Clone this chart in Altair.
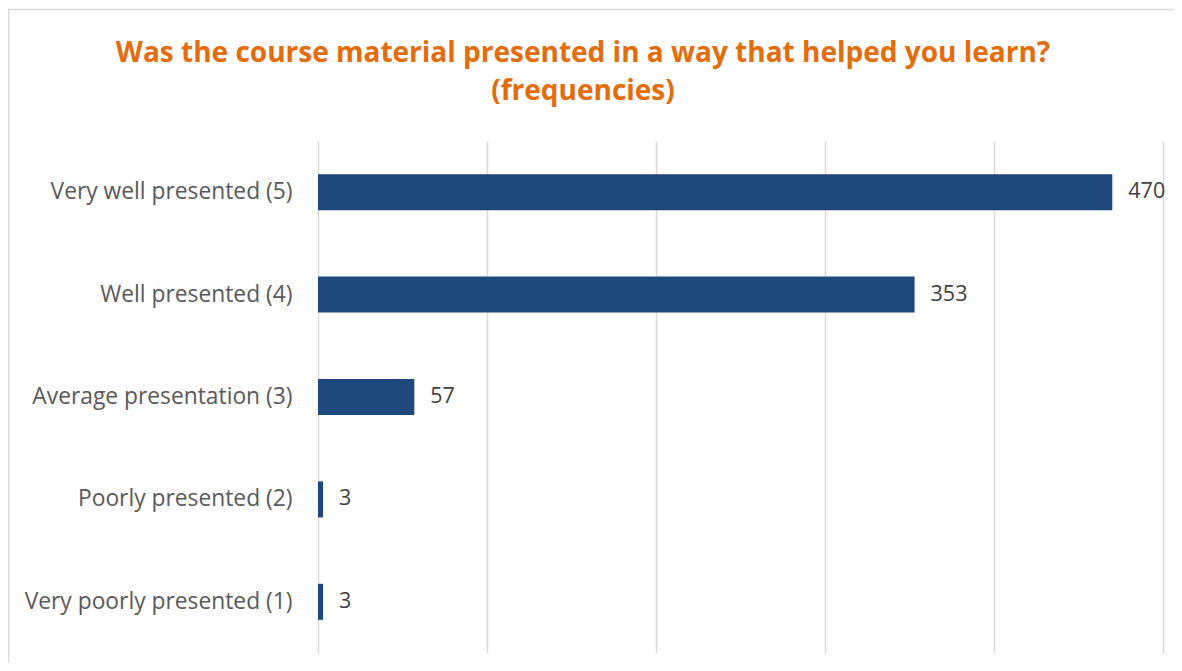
import altair as alt
import pandas as pd

categories = [
    "Very well presented (5)",
    "Well presented (4)",
    "Average presentation (3)",
    "Poorly presented (2)",
    "Very poorly presented (1)",
]
counts = [470, 353, 57, 3, 3]
title_text = "Was the course material presented in a way that helped you learn?\n(frequencies)"

df = pd.DataFrame({"category": categories, "count": counts})

FONT = "Open Sans"
BAR = "#1F497D"

y_enc = alt.Y(
    "category:N",
    sort=categories,
    title=None,
    scale=alt.Scale(paddingInner=0.648, paddingOuter=0.324),
    axis=alt.Axis(domain=False, ticks=False, labelPadding=26, labelFontSize=22.8,
                  labelColor="#595959", labelFont=FONT, grid=False, labelLimit=0),
)
x_enc = alt.X(
    "count:Q",
    title=None,
    scale=alt.Scale(domain=[0, 500], nice=False),
    axis=alt.Axis(values=[0, 100, 200, 300, 400, 500], labels=False, ticks=False,
                  domain=False, grid=True, gridColor="#D9D9D9", gridWidth=1.5),
)

bars = alt.Chart(df).mark_bar(color=BAR).encode(y=y_enc, x=x_enc)

labels = alt.Chart(df).mark_text(
    align="left", baseline="middle", dx=16, fontSize=21.5, color="#404040", font=FONT
).encode(y=alt.Y("category:N", sort=categories), x=alt.X("count:Q"), text="count:Q")

one = pd.DataFrame({"a": [0]})

border = alt.Chart(one).mark_rect(
    fillOpacity=0, stroke="#D9D9D9", strokeWidth=1.5, clip=False
).encode(
    x=alt.value(-309.5), x2=alt.value(1200),
    y=alt.value(-131.5), y2=alt.value(800),
)

title = alt.Chart(one).mark_text(
    align="center", baseline="alphabetic", fontSize=28, fontWeight="bold",
    color="#E46C0A", font=FONT, lineBreak="\n", lineHeight=38,
).encode(
    x=alt.value(265), y=alt.value(-79), text=alt.value(title_text),
)

chart = alt.layer(border, title, bars, labels).properties(
    width=845,
    height=512,
    autosize=alt.AutoSizeParams(type="none"),
    padding={"left": 310, "top": 133, "right": 11, "bottom": 10},
).configure_view(stroke=None)

chart.save("out.html", embed_options={"renderer": "svg", "actions": False})
